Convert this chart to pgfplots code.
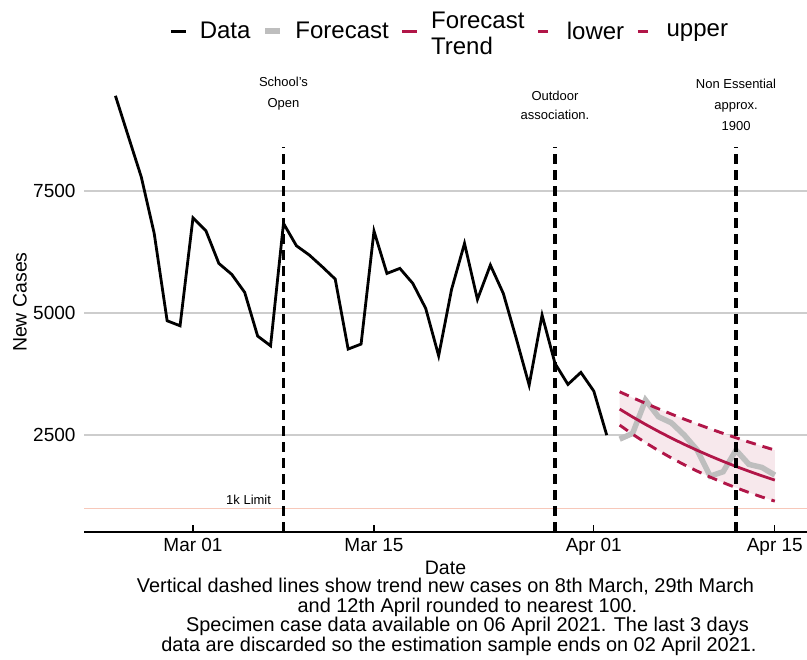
\documentclass[border=0pt]{standalone}
\usepackage{fontspec}
\setmainfont{Liberation Sans}
\usepackage{pgfplots}
\pgfplotsset{compat=1.18}
\usepackage{pgfplotstable}
\usepgfplotslibrary{fillbetween}
\definecolor{crim}{RGB}{177,22,72}
\definecolor{ribbon}{RGB}{247,232,236}
\definecolor{fcgrey}{RGB}{190,190,190}
\definecolor{limitc}{RGB}{247,200,186}
\definecolor{gridc}{RGB}{205,205,205}

\pgfplotstableread{
d value
-6 9453
-5 8620
-4 7790
-3 6633
-2 4843
-1 4740
0 6953
1 6687
2 6018
3 5793
4 5424
5 4529
6 4330
7 6838
8 6380
9 6189
10 5949
11 5697
12 4263
13 4365
14 6680
15 5813
16 5916
17 5609
18 5096
19 4126
20 5486
21 6428
22 5281
23 5984
24 5404
25 4482
26 3525
27 4959
28 3969
29 3539
30 3785
31 3402
32 2500
}\datatab

\pgfplotstableread{
d fc trend lo up
33 2418 3033 2705 3388
34 2535 2872 2518 3267
35 3218 2720 2345 3151
36 2876 2576 2183 3039
37 2752 2439 2032 2931
38 2500 2310 1892 2826
39 2193 2188 1762 2726
40 1660 2072 1640 2629
41 1749 1962 1527 2535
42 2193 1858 1422 2445
43 1900 1760 1324 2358
44 1838 1666 1232 2274
45 1681 1578 1147 2193
}\fctab

\begin{document}
\begin{tikzpicture}
\begin{axis}[
  at={(84pt,128pt)}, anchor=south west,
  scale only axis, width=723pt, height=457pt,
  xmin=-8.43, xmax=47.49, ymin=515, ymax=9879,
  axis lines=left,
  x axis line style={-, line width=1.8pt, black},
  y axis line style={draw=none},
  tick align=inside, major tick length=7pt,
  xtick={0,14,31,45}, xticklabels={Mar 01,Mar 15,Apr 01,Apr 15},
  ytick={2500,5000,7500},
  minor tick num=0,
  xtick style={line width=1.2pt, black},
  ytick style={line width=1.2pt, gridc},
  ymajorgrids, grid style={line width=1.8pt, gridc},
  yticklabel style={/pgf/number format/1000 sep={}, /pgf/number format/assume math mode=true},
  ticklabel style={font=\fontsize{19}{22}\selectfont},
  yticklabel style={xshift=-5pt},
  xticklabel style={yshift=-3pt},
  xlabel={Date}, ylabel={New Cases},
  label style={font=\fontsize{19.5}{22}\selectfont},
  xlabel style={at={(axis description cs:0.5,-0.0788)}, anchor=center},
  ylabel style={at={(axis description cs:-0.0885,0.503)}, anchor=center},
  legend columns=5,
  legend cell align=left,
  legend image code/.code={\draw[#1] (0pt,0pt) -- (15pt,0pt);},
  legend style={draw=none, fill=none, at={(axis description cs:0.5045,1.096)}, anchor=center,
    font=\fontsize{24}{26}\selectfont,
    nodes={inner xsep=0pt},
    /tikz/every odd column/.append style={column sep=12.5pt},
    /tikz/every even column/.append style={column sep=12pt}},
]
% ribbon
\addplot[name path=uppath, draw=none, forget plot] table[x=d, y=up] {\fctab};
\addplot[name path=lopath, draw=none, forget plot] table[x=d, y=lo] {\fctab};
\addplot[fill=ribbon, draw=none, forget plot] fill between[of=uppath and lopath];
% 1k limit
\addplot[limitc, line width=1.5pt, forget plot] coordinates {(-8.43,1000) (47.49,1000)};
% series
\addplot[black, line width=2.8pt] table[x=d, y=value] {\datatab};
\addlegendentry{Data}
\addplot[fcgrey, line width=5.5pt] table[x=d, y=fc] {\fctab};
\addlegendentry{Forecast}
\addplot[crim, line width=2.8pt] table[x=d, y=trend] {\fctab};
\addlegendentry{\raisebox{8pt}{\begin{tabular}[c]{@{}l@{}}Forecast\\Trend\end{tabular}}}
\addplot[crim, line width=2.9pt, dash pattern=on 10pt off 7pt] table[x=d, y=lo] {\fctab};
\addlegendentry{lower}
\addplot[crim, line width=2.9pt, dash pattern=on 10pt off 7pt] table[x=d, y=up] {\fctab};
\addlegendentry{upper}
% vertical dashed lines
\addplot[black, line width=3.2pt, dash pattern=on 10pt off 6pt, forget plot] coordinates {(7,515) (7,8400)};
\addplot[black, line width=3.2pt, dash pattern=on 10pt off 6pt, forget plot] coordinates {(28,515) (28,8400)};
\addplot[black, line width=3.2pt, dash pattern=on 10pt off 6pt, forget plot] coordinates {(42,515) (42,8400)};
% annotations
\node[align=center, font=\fontsize{13}{21}\selectfont] at (axis cs:7,9488) {School's\\Open};
\node[align=center, font=\fontsize{13}{19}\selectfont] at (axis cs:28,9262) {Outdoor\\association.};
\node[align=center, font=\fontsize{13}{21}\selectfont] at (axis cs:42,9262) {Non Essential\\approx.\\1900};
\node[font=\fontsize{13}{15}\selectfont] at (axis cs:4.3,1168) {1k Limit};
\end{axis}
\node[anchor=base, font=\fontsize{19.9}{22}\selectfont] at (445.5pt,67pt) {Vertical dashed lines show trend new cases on 8th March, 29th March};
\node[anchor=base, font=\fontsize{19.9}{22}\selectfont] at (467.5pt,47.5pt) {and 12th April rounded to nearest 100.};
\node[anchor=base, font=\fontsize{19.9}{22}\selectfont] at (467.5pt,28pt) {Specimen case data available on 06 April 2021. The last 3 days};
\node[anchor=base, font=\fontsize{19.9}{22}\selectfont] at (459pt,8.5pt) {data are discarded so the estimation sample ends on 02 April 2021.};
\pgfresetboundingbox
\useasboundingbox (0,0) rectangle (807pt,660pt);
\end{tikzpicture}
\end{document}
